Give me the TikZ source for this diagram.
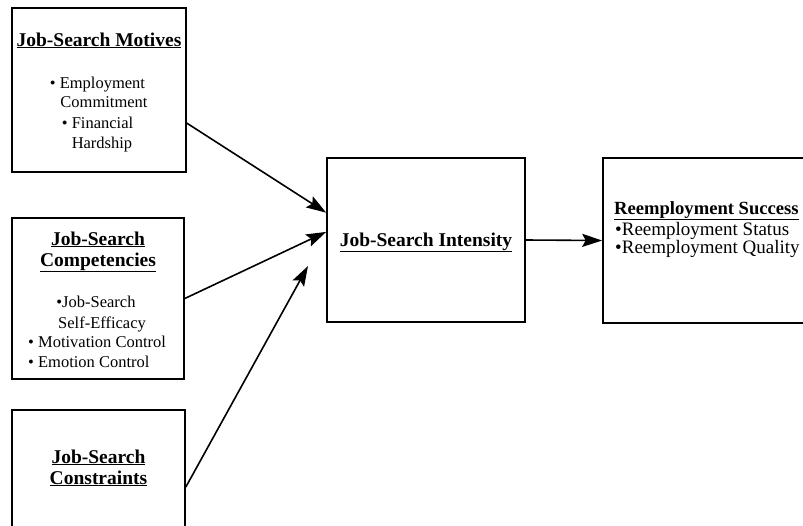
\documentclass[tikz,border=0pt]{standalone}
\usepackage{fontspec}
\setmainfont{Liberation Serif}
\usetikzlibrary{arrows.meta,calc}
\tikzset{
  box/.style={draw, line width=1.6pt, rectangle, inner sep=0pt, fill=none},
  ttl/.style={font=\fontsize{19.5}{22}\selectfont\bfseries, anchor=base, inner sep=0pt},
  itm/.style={font=\fontsize{16.5}{20}\selectfont, anchor=base, inner sep=0pt},
  itmb/.style={font=\fontsize{19}{21}\selectfont, anchor=base west, inner sep=0pt},
  arr/.style={line width=1.6pt, -{Stealth[length=20pt,width=13pt,inset=3.5pt]}}
}
\begin{document}
\begin{tikzpicture}[x=1pt,y=-1pt]
\useasboundingbox (0,0) rectangle (803,525);
% boxes
\node[box, minimum width=174pt, minimum height=164pt] (mot) at (99,90) {};
\node[box, minimum width=172pt, minimum height=161pt] (comp) at (98,298.5) {};
\node[box, minimum width=173pt, minimum height=135pt] (cons) at (98.5,477.5) {};
\node[box, minimum width=198pt, minimum height=164pt] (int) at (426,240) {};
\node[box, minimum width=217pt, minimum height=165pt] (succ) at (711.5,240.5) {};
% box 1 text
\node[ttl] (motT) at (99,46) {\underline{Job-Search Motives}};
\node[itm] (mot1) at (97.5,88) {• Employment};
\node[itm] (mot2) at (104,107) {Commitment};
\node[itm] (mot3) at (97.5,128) {• Financial};
\node[itm] (mot4) at (102,148) {Hardship};
% box 2 text
\node[ttl] (compT1) at (98,245) {\underline{Job-Search}};
\node[ttl] (compT2) at (98,266) {\underline{Competencies}};
\node[itm] (comp1) at (96,307) {•Job-Search};
\node[itm] (comp2) at (102,328) {Self-Efficacy};
\node[itm, anchor=base west] (comp3) at (28,347) {• Motivation Control};
\node[itm, anchor=base west] (comp4) at (28,367) {• Emotion Control};
% box 3 text
\node[ttl] (consT1) at (98.5,463) {\underline{Job-Search}};
\node[ttl] (consT2) at (98.5,484) {\underline{Constraints}};
% box 4 text
\node[ttl] (intT) at (426,246) {\underline{Job-Search Intensity}};
% box 5 text
\node[ttl, anchor=base west, font=\fontsize{18.6}{21}\selectfont\bfseries] (succT) at (614,214) {\underline{Reemployment Success}};
\node[itmb] (succ1) at (615,235) {•Reemployment Status};
\node[itmb] (succ2) at (615,253) {•Reemployment Quality};
% connectors
\coordinate (c3end) at (308,266);
\draw[arr] ($(mot.south east)!0.3!(mot.north east)$) -- ($(int.north west)!0.335!(int.south west)$);
\draw[arr] (comp.east) -- ($(int.north west)!0.451!(int.south west)$);
\draw[arr] ($(cons.north east)!0.57!(cons.south east)$) -- (c3end);
\draw[arr] (int.east) -- (succ.west);
\end{tikzpicture}
\end{document}
